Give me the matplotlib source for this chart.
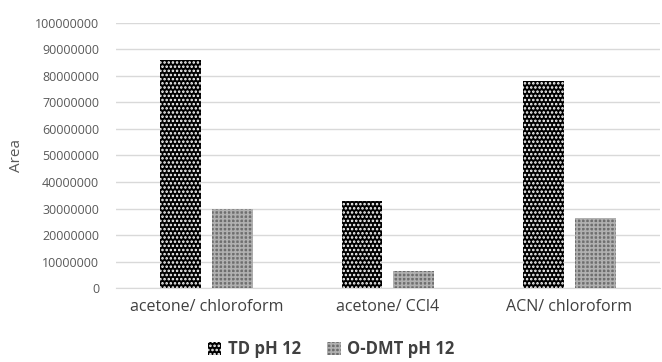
import matplotlib.pyplot as plt
import numpy as np

# data
categories = ['acetone/ chloroform', 'acetone/ CCl4', 'ACN/ chloroform']
td_ph12 = [86000000, 33000000, 78000000]
odmt_ph12 = [30000000, 6500000, 26500000]
series_names = ['TD pH 12', 'O-DMT pH 12']

plt.rcParams['font.family'] = ['Open Sans', 'DejaVu Sans']
plt.rcParams['hatch.linewidth'] = 1.2

fig = plt.figure(figsize=(6.62, 3.62), dpi=100, facecolor='white')
ax = fig.add_axes([0.175, 0.2044, 0.822, 0.7321])

x = np.arange(len(categories))
w = 0.225
gap = 0.06

b1 = ax.bar(x - (w + gap) / 2, td_ph12, width=w, color='black',
            edgecolor='white', hatch='....', linewidth=0, label=series_names[0], zorder=3)
b2 = ax.bar(x + (w + gap) / 2, odmt_ph12, width=w, color='#6e6e6e',
            edgecolor='#b0b0b0', hatch='++++', linewidth=0, label=series_names[1], zorder=3)

ax.set_ylim(0, 100000000)
ax.set_xlim(-0.5, 2.5)
ax.set_yticks(np.arange(0, 100000001, 10000000))
ax.set_yticklabels([str(v) for v in range(0, 100000001, 10000000)])
ax.yaxis.grid(True, color='#d9d9d9', linewidth=1, zorder=0)
ax.set_axisbelow(True)

for s in ['top', 'right', 'left']:
    ax.spines[s].set_visible(False)
ax.spines['bottom'].set_color('#d9d9d9')

ax.tick_params(axis='y', length=0, labelsize=9, labelcolor='#595959', pad=12)
ax.tick_params(axis='x', length=0, labelsize=11.5, labelcolor='#404040', pad=8)
ax.set_xticks(x)
ax.set_xticklabels(categories)

ax.set_ylabel('Area', fontsize=11, color='#595959', labelpad=8)

leg = fig.legend(handles=[b1, b2], loc='center', bbox_to_anchor=(0.5, 0.036),
                 ncol=2, frameon=False, handlelength=0.8, handleheight=0.8,
                 handletextpad=0.4, columnspacing=1.6,
                 prop={'size': 12, 'weight': 'bold'})
for t in leg.get_texts():
    t.set_color('#404040')

plt.savefig('out.png', dpi=100)
